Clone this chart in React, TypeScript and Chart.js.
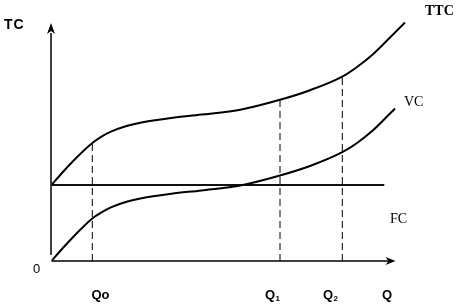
import React, { useEffect, useRef } from "react";
import { Chart, registerables } from "chart.js";

Chart.register(...registerables);

// Total cost curve (TC)
const tcX = [0, 10, 20, 30, 40.8, 50, 60, 75, 90, 120, 150, 190, 228.5, 258.5, 290.8, 305.2, 321.8, 338.5, 353.5];
const tcY = [76, 87.5, 98.3, 108.3, 118, 124.4, 129.6, 135, 138.6, 143.1, 146.4, 151.6, 161.2, 170.8, 184.4, 193.8, 207.1, 223.5, 238.5];

// Variable cost curve (VC)
const vcX = [0, 10, 20, 30, 40.8, 50, 60, 75, 90, 120, 150, 190, 228.5, 258.5, 290.8, 305.2, 321.8, 338.5, 343.5];
const vcY = [0, 11.5, 22.3, 32.5, 42.5, 48.6, 53.8, 59.2, 62.8, 67.3, 70.6, 75.8, 85.5, 95, 108.8, 117.8, 131, 147.5, 152.5];

// Fixed cost line (FC)
const fcX = [0, 332.8];
const fcY = [76, 76];

// Output levels marked with dashed lines (Qo, Q1, Q2) and TC height there
const qMarks = [40.8, 228.5, 290.8];
const qTops = [118, 161.2, 184.4];

const toPts = (xs: number[], ys: number[]) => xs.map((x, i) => ({ x, y: ys[i] }));

const overlay = {
  id: "overlay",
  afterDatasetsDraw(chart: any) {
    const { ctx, scales } = chart;
    const xs = scales.x;
    const ys = scales.y;
    const x0 = xs.getPixelForValue(0);
    const y0 = ys.getPixelForValue(0);
    ctx.save();
    ctx.strokeStyle = "#000";
    ctx.fillStyle = "#000";
    ctx.lineWidth = 1.5;
    // x axis
    ctx.beginPath();
    ctx.moveTo(x0, y0);
    ctx.lineTo(xs.getPixelForValue(338), y0);
    ctx.stroke();
    const xt = xs.getPixelForValue(344);
    ctx.beginPath();
    ctx.moveTo(xt, y0);
    ctx.lineTo(xt - 10, y0 - 4);
    ctx.lineTo(xt - 7, y0);
    ctx.lineTo(xt - 10, y0 + 4);
    ctx.closePath();
    ctx.fill();
    // y axis
    const ya = x0 - 0.5;
    ctx.beginPath();
    ctx.moveTo(ya, ys.getPixelForValue(6));
    ctx.lineTo(ya, ys.getPixelForValue(228));
    ctx.stroke();
    const yt = ys.getPixelForValue(238);
    ctx.beginPath();
    ctx.moveTo(ya, yt);
    ctx.lineTo(ya - 4, yt + 11);
    ctx.lineTo(ya, yt + 8);
    ctx.lineTo(ya + 4, yt + 11);
    ctx.closePath();
    ctx.fill();

    // texts
    ctx.textBaseline = "alphabetic";
    ctx.textAlign = "left";
    ctx.font = "bold 14px 'Liberation Sans', Arial, sans-serif";
    ctx.fillText("T", 4, 28.5);
    ctx.fillText("C", 13.5, 28.5);
    ctx.font = "bold 14px 'Liberation Serif', 'Times New Roman', serif";
    ctx.fillText("TTC", 425, 15);
    ctx.font = "14px 'Liberation Serif', 'Times New Roman', serif";
    ctx.fillText("VC", 404, 106);
    ctx.fillText("FC", 390, 223);
    ctx.font = "13px 'Liberation Sans', Arial, sans-serif";
    ctx.fillText("0", 33, 273);
    ctx.font = "bold 13px 'Liberation Sans', Arial, sans-serif";
    ctx.fillText("Qo", 91.5, 298.5);
    ctx.fillText("Q", 265, 298.5);
    ctx.fillText("Q", 323, 298.5);
    ctx.fillText("Q", 382, 298.5);
    ctx.font = "bold 8px 'Liberation Sans', Arial, sans-serif";
    ctx.fillText("1", 275.5, 301);
    ctx.fillText("2", 333.5, 301);
    ctx.restore();
  },
};

export default function App() {
  const ref = useRef<HTMLCanvasElement | null>(null);
  useEffect(() => {
    if (!ref.current) return;
    const solid = (data: any[], width: number, color = "#000") => ({
      data,
      borderColor: color,
      borderWidth: width,
      pointRadius: 0,
      fill: false,
      cubicInterpolationMode: "monotone" as const,
    });
    const dashed = qMarks.map((q, i) => ({
      data: [
        { x: q, y: 0 },
        { x: q, y: qTops[i] },
      ],
      borderColor: "#000",
      borderWidth: 1,
      borderDash: [7, 4],
      pointRadius: 0,
      fill: false,
      tension: 0,
    }));
    const chart = new Chart(ref.current, {
      type: "line",
      data: {
        datasets: [
          solid(toPts(tcX, tcY), 2),
          solid(toPts(vcX, vcY), 2),
          { data: toPts(fcX, fcY), borderColor: "#111", borderWidth: 2.2, pointRadius: 0, fill: false, tension: 0 },
          ...dashed,
        ],
      },
      options: {
        animation: false,
        responsive: false,
        maintainAspectRatio: false,
        devicePixelRatio: 1,
        layout: { padding: { left: 51.5, right: 46.5, top: 21, bottom: 44 } },
        plugins: { legend: { display: false }, tooltip: { enabled: false }, title: { display: false } },
        scales: {
          x: { type: "linear", min: 0, max: 360, display: false },
          y: { type: "linear", min: 0, max: 240, display: false },
        },
      },
      plugins: [overlay],
    });
    return () => chart.destroy();
  }, []);
  return (
    <div style={{ position: "absolute", left: 0, top: 0, width: 458, height: 305, background: "#fff" }}>
      <canvas ref={ref} width={458} height={305} />
    </div>
  );
}
